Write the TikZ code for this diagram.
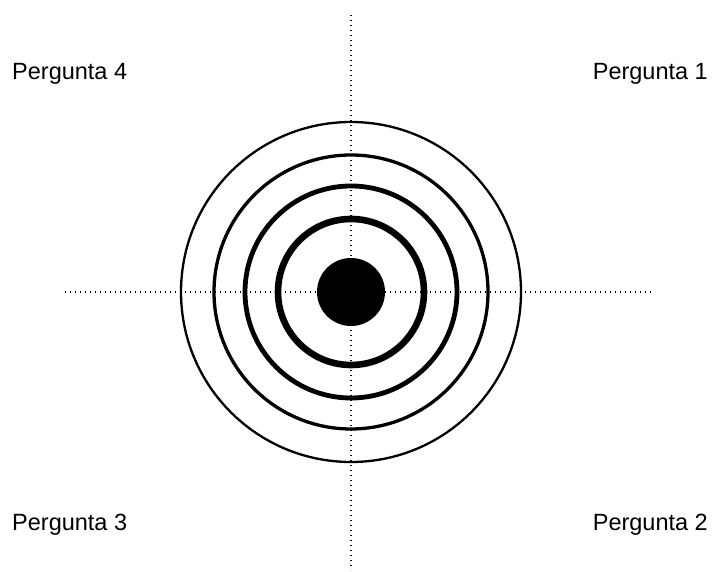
\documentclass[tikz,border=0pt]{standalone}
\usepackage{fontspec}
\setmainfont{Liberation Sans}
\begin{document}
\begin{tikzpicture}[
  x=1pt, y=1pt,
  font=\fontsize{23.5}{28}\selectfont,
  axisline/.style={line width=1.4pt, dash pattern=on 1.4pt off 3.6pt},
  ring/.style={draw=black},
  question/.style={inner sep=0pt}
]
\useasboundingbox (0,0) rectangle (712,572);
\coordinate (centre) at (351,280);
% dotted axes
\coordinate (vtop) at (351,557);
\coordinate (vbot) at (351,2);
\coordinate (hleft) at (65,280);
\coordinate (hright) at (652,280);
\draw[axisline] (vtop) -- (vbot);
\draw[axisline] (hleft) -- (hright);
% rings, thicker towards the middle
\foreach \r/\w in {170/2.3, 137/3.3, 106/4.8, 73/6.6}
  \draw[ring, line width=\w pt] (centre) circle (\r);
\fill (centre) circle (34);
% quadrant labels
\node[question, anchor=base west] (q4) at (12,492) {Pergunta 4};
\node[question, anchor=base east] (q1) at (708,492) {Pergunta 1};
\node[question, anchor=base west] (q3) at (12,41) {Pergunta 3};
\node[question, anchor=base east] (q2) at (708,41) {Pergunta 2};
\end{tikzpicture}
\end{document}
